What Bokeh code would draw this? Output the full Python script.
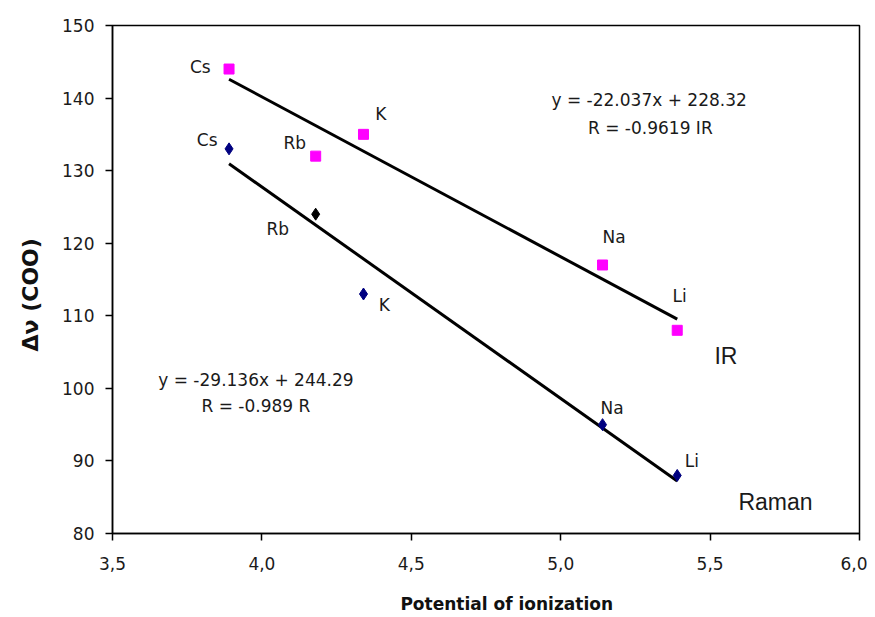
from bokeh.plotting import figure
from bokeh.models import ColumnDataSource, FixedTicker, Range1d
from bokeh.core.properties import value
from bokeh.embed import file_html
from bokeh.resources import INLINE

# ---- data ----
elements = ["Cs", "Rb", "K", "Na", "Li"]
ionization = [3.89, 4.18, 4.34, 5.14, 5.39]
ir_values = [144, 132, 135, 117, 108]
raman_values = [133, 124, 113, 95, 88]
raman_colors = ["#000080", "#000000", "#000080", "#000080", "#000080"]

ir_fit = (-22.037, 228.32)
raman_fit = (-29.136, 244.29)
ir_eq = ["y = -22.037x + 228.32", "R = -0.9619 IR"]
raman_eq = ["y = -29.136x + 244.29", "R = -0.989 R"]

x_ticks = [3.5, 4.0, 4.5, 5.0, 5.5, 6.0]
x_tick_labels = ["3,5", "4,0", "4,5", "5,0", "5,5", "6,0"]
y_ticks = [80, 90, 100, 110, 120, 130, 140, 150]
x_title = "Potential of ionization"
y_title = "Δν (COO)"

# label placement (data coords) for point labels
ir_label_x = [3.794, 4.110, 4.398, 5.179, 5.398]
ir_label_y = [144.35, 133.8, 137.8, 120.8, 112.7]
raman_label_x = [3.817, 4.053, 4.410, 5.172, 5.439]
raman_label_y = [134.2, 122.0, 111.55, 97.25, 90.05]

FONT = "DejaVu Sans"
TXT = "#1a1a1a"
NBSP = "\u00a0"

p = figure(width=867, height=616, output_backend="svg", toolbar_location=None,
           x_range=Range1d(3.5, 6.0), y_range=Range1d(80, 150),
           min_border_left=112, min_border_right=8, min_border_top=25, min_border_bottom=83)
p.background_fill_color = "white"
p.border_fill_color = "white"
p.outline_line_color = "black"
p.outline_line_width = 1.5
p.xgrid.visible = False
p.ygrid.visible = False

# trend lines
x0, x1 = ionization[0], ionization[-1]
p.segment(x0=[x0], y0=[ir_fit[0] * x0 + ir_fit[1]], x1=[x1], y1=[ir_fit[0] * x1 + ir_fit[1]],
          line_color="black", line_width=3)
p.segment(x0=[x0], y0=[raman_fit[0] * x0 + raman_fit[1]], x1=[x1], y1=[raman_fit[0] * x1 + raman_fit[1]],
          line_color="black", line_width=3)

# points
p.scatter(ionization, ir_values, marker="square", size=10, fill_color="#FF00FF", line_color="#FF00FF")
src_r = ColumnDataSource(dict(x=ionization, y=raman_values, c=raman_colors))
p.scatter("x", "y", source=src_r, marker="diamond", size=12, fill_color="c", line_color="c")

# point labels
p.text(ir_label_x, ir_label_y, text=elements, text_align="center", text_baseline="middle",
       text_font=value(FONT), text_font_size="17px", text_color=TXT)
p.text(raman_label_x, raman_label_y, text=elements, text_align="center", text_baseline="middle",
       text_font=value(FONT), text_font_size="17px", text_color=TXT)

# equations
p.text([5.296, 5.300], [139.8, 135.9], text=ir_eq, text_align="center", text_baseline="middle",
       text_font=value(FONT), text_font_size="17px", text_color=TXT)
p.text([3.98, 3.98], [101.2, 97.6], text=raman_eq, text_align="center", text_baseline="middle",
       text_font=value(FONT), text_font_size="17px", text_color=TXT)

# series names
p.text([5.553], [104.5], text=["IR"], text_align="center", text_baseline="middle",
       text_font=value("Liberation Sans"), text_font_size="23px", text_color=TXT)
p.text([5.719], [84.3], text=["Raman"], text_align="center", text_baseline="middle",
       text_font=value("Liberation Sans"), text_font_size="23px", text_color=TXT)

# axes
p.xaxis.ticker = FixedTicker(ticks=x_ticks)
p.xaxis.major_label_overrides = {t: l for t, l in zip(x_ticks, x_tick_labels)}
p.yaxis.ticker = FixedTicker(ticks=y_ticks)
for ax in (p.xaxis, p.yaxis):
    ax.axis_line_color = "black"
    ax.axis_line_width = 1.5
    ax.major_tick_line_color = "black"
    ax.major_tick_line_width = 1.5
    ax.major_tick_in = 0
    ax.major_tick_out = 7
    ax.minor_tick_line_color = None
    ax.major_label_text_font = FONT
    ax.major_label_text_font_size = "17px"
    ax.major_label_text_color = TXT
    ax.axis_label_text_font = FONT
    ax.axis_label_text_font_style = "bold"
    ax.axis_label_text_color = "#111111"
p.xaxis.major_label_standoff = 16
p.yaxis.major_label_standoff = 11

# axis titles; no-break spaces nudge them off-centre as in the reference
p.xaxis.axis_label = NBSP * 7 + x_title
p.xaxis.axis_label_text_font_size = "17px"
p.xaxis.axis_label_standoff = 21
p.yaxis.axis_label = y_title + NBSP * 4
p.yaxis.axis_label_text_font_size = "22px"
p.yaxis.axis_label_standoff = 16

open("out.html", "w").write(file_html(p, INLINE))
